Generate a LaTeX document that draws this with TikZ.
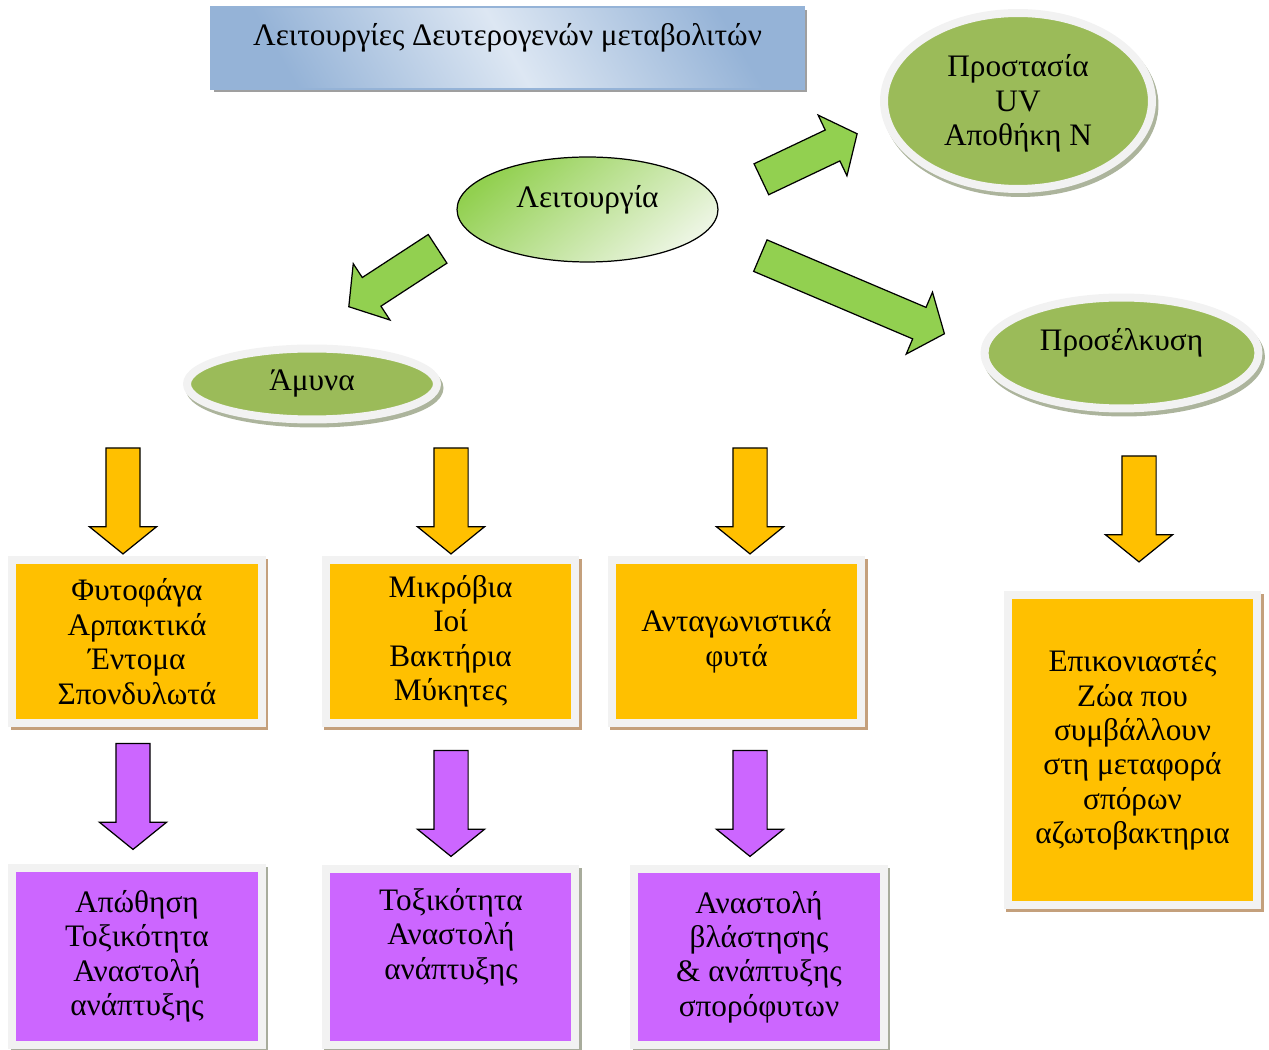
\documentclass[tikz,border=0pt]{standalone}
\usepackage{fontspec}
\setmainfont{Liberation Serif}
\usetikzlibrary{shapes.geometric,shapes.arrows,shadows}

\definecolor{arrowgreen}{RGB}{146,208,80}
\definecolor{leafgreen}{RGB}{155,187,89}
\definecolor{palegreen}{RGB}{236,245,226}
\definecolor{ringgray}{RGB}{242,242,242}
\definecolor{boxorange}{RGB}{255,192,0}
\definecolor{boxpurple}{RGB}{204,102,255}
\definecolor{titleblue}{RGB}{149,179,215}
\definecolor{titlelight}{RGB}{221,231,243}
\definecolor{tanshadow}{RGB}{196,160,124}
\definecolor{grayshadow}{RGB}{168,172,156}
\definecolor{ellshadow}{RGB}{172,180,156}

\tikzset{
  txt/.style={font=\fontsize{17.8}{19.6}\selectfont, align=center},
  ringell/.style={txt, ellipse, draw=ringgray, line width=0.16cm, fill=leafgreen, inner sep=0pt,
    drop shadow={shadow xshift=0.05cm, shadow yshift=-0.08cm, fill=ellshadow, draw=ellshadow,
      line width=0.16cm, opacity=1}},
  boxframe/.style={txt, rectangle, draw=ringgray, line width=0.16cm, inner sep=0pt, minimum width=5cm},
  orangebox/.style={boxframe, fill=boxorange, minimum height=3.26cm,
    drop shadow={shadow xshift=0.05cm, shadow yshift=-0.06cm, fill=tanshadow, draw=tanshadow,
      line width=0.16cm, opacity=1}},
  purplebox/.style={boxframe, fill=boxpurple, minimum height=3.54cm,
    drop shadow={shadow xshift=0.05cm, shadow yshift=-0.06cm, fill=grayshadow, draw=grayshadow,
      line width=0.16cm, opacity=1}},
  blockarrow/.style={single arrow, draw=black, line width=0.7pt, inner xsep=0pt, inner ysep=0.33cm,
    single arrow head extend=0.33cm, single arrow tip angle=102, minimum height=2.12cm},
  greenarrow/.style={blockarrow, fill=arrowgreen},
  downorange/.style={blockarrow, fill=boxorange, rotate=-90},
  downpurple/.style={blockarrow, fill=boxpurple, rotate=-90}
}

\begin{document}
\begin{tikzpicture}[x=0.02cm, y=-0.02cm]
  \useasboundingbox (0,0) rectangle (1269,1050);

  % title
  \node[txt, rectangle, draw=titleblue, line width=0.04cm, inner sep=0pt,
        minimum width=11.86cm, minimum height=1.64cm, text height=0.45cm, text depth=0.55cm,
        top color=titleblue, bottom color=titleblue, middle color=titlelight, shading angle=-60,
        drop shadow={shadow xshift=0.06cm, shadow yshift=-0.06cm, fill=gray!75, opacity=1}]
        (title) at (507.5,48) {Λειτουργίες Δευτερογενών μεταβολιτών};

  % ellipses
  \node[txt, ellipse, draw=black, line width=0.7pt, inner sep=0pt, minimum width=5.22cm,
        minimum height=2.1cm, text height=0.45cm, text depth=0.53cm,
        top color=arrowgreen, bottom color=palegreen, shading angle=40]
        (func) at (587.5,209.5) {Λειτουργία};
  \node[ringell, minimum width=5.36cm, minimum height=3.52cm, text depth=0.04cm] (protect) at (1018,101)
        {Προστασία\\UV\\Αποθήκη N};
  \node[ringell, minimum width=5cm, minimum height=1.42cm] (defense) at (312,384) {Άμυνα};
  \node[ringell, minimum width=5.48cm, minimum height=2.22cm, text height=0.45cm, text depth=0.55cm]
        (attract) at (1121.5,353) {Προσέλκυση};

  % green arrows
  \node[greenarrow, rotate=25.4] (toProtect) at (803,159.5) {};
  \node[greenarrow, rotate=213.1] (toDefense) at (399,274) {};
  \node[greenarrow, rotate=-23, minimum height=4cm] (toAttract) at (846,292) {};

  % orange row
  \node[downorange] (toHerb) at (123,494) {};
  \node[downorange] (toMicrobe) at (451,494) {};
  \node[downorange] (toCompet) at (750,494) {};
  \node[downorange] (toCommun) at (1139,502) {};

  \node[orangebox] (herb) at (137,641.5) {Φυτοφάγα\\Αρπακτικά\\Έντομα\\Σπονδυλωτά};
  \node[orangebox] (microbe) at (450.5,641.5) {Μικρόβια\\Ιοί\\Βακτήρια\\Μύκητες};
  \node[orangebox] (compet) at (736.5,641.5) {Ανταγωνιστικά\\φυτά};
  \node[orangebox, minimum height=6.2cm] (commun) at (1132.5,750)
        {Επικονιαστές\\Ζώα που\\συμβάλλουν\\στη μεταφορά\\σπόρων\\αζωτοβακτηρια};

  % purple row
  \node[downpurple] (toRepel) at (133,789.5) {};
  \node[downpurple] (toToxic) at (451,796.5) {};
  \node[downpurple] (toInhibit) at (750,796.5) {};

  \node[purplebox] (repel) at (137,956.5) {Απώθηση\\Τοξικότητα\\Αναστολή\\ανάπτυξης};
  \node[purplebox] (toxic) at (450.5,957) {};
  \node[txt] (toxicText) at (451,937) {Τοξικότητα\\Αναστολή\\ανάπτυξης};
  \node[purplebox] (inhibit) at (759,957) {Αναστολή\\βλάστησης\\\& ανάπτυξης\\σπορόφυτων};
\end{tikzpicture}
\end{document}
